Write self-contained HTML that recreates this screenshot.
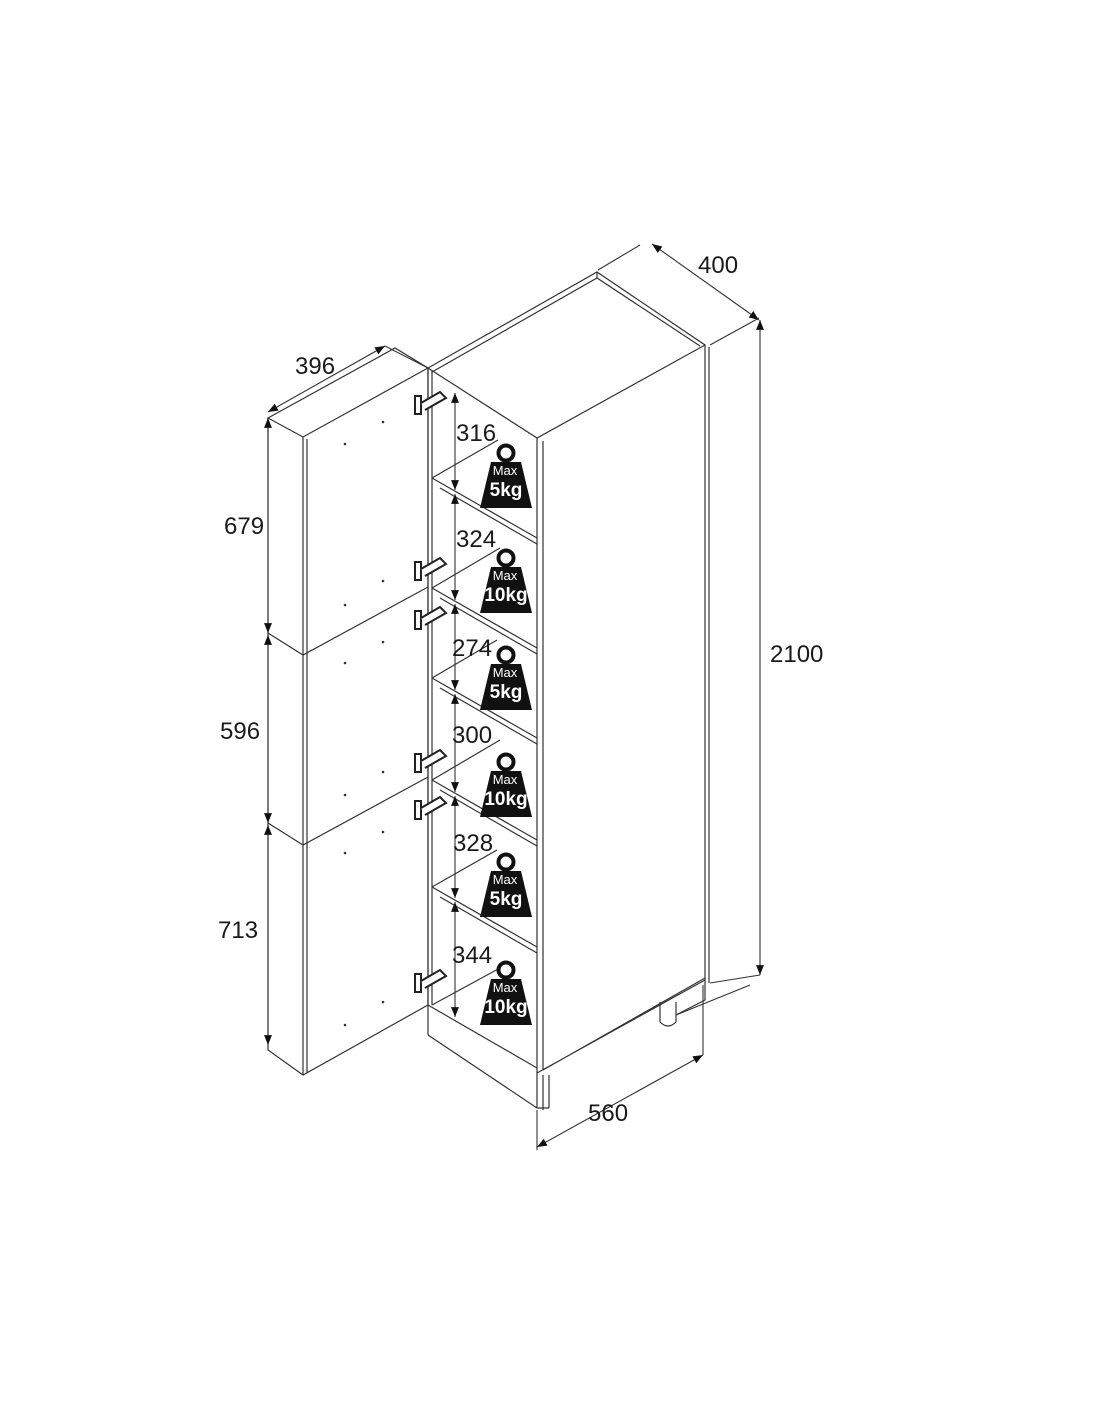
<!DOCTYPE html>
<html><head><meta charset="utf-8"><style>
html,body{margin:0;padding:0;background:#fff;}
svg{display:block}
text{font-family:"Liberation Sans",sans-serif;fill:#1a1a1a}
</style></head><body>
<svg width="1100" height="1422" viewBox="0 0 1100 1422" xmlns="http://www.w3.org/2000/svg">
<defs>
<marker id="a" viewBox="0 0 10 10" refX="10" refY="5" markerWidth="9" markerHeight="9" orient="auto-start-reverse"><path d="M0,1 L10,5 L0,9 z" fill="#111"/></marker>
<g id="w">
<circle cx="0" cy="10" r="7.5" fill="none" stroke="#111" stroke-width="4"/>
<path d="M-15,19 L15,19 L26,65 L-26,65 z" fill="#111"/>
</g>
</defs>
<g stroke="#333" stroke-width="1.2" fill="none">
<path d="M428,368 L597,272 L705,345 L537,438 Z"/>
<path d="M432,372 L597,278 L700,346"/>
<path d="M597,272 L597,278"/>
<path d="M537,438 L537,1073 M543,441 L543,1070 M705,345 L705,985 M709,347 L709,983"/>
<path d="M537,1073 L705,980 M543,1070 L705,978"/>
<path d="M428,368 L428,1035 M432,370 L432,1005"/>
<path d="M428,1005 L537,1068 M428,1035 L537,1108 M537,1073 L537,1108 M543,1075 L543,1110"/>
<path d="M549,1075 L549,1108 M537,1108 L549,1108"/>
<path d="M660,1002 L660,1022 Q668,1030 676,1022 L676,1002"/>
<path d="M705,985 L705,1000 L676,1015"/>
<path d="M432,478 L537,538 M440,488 L537,544 M432,478 L498,440"/>
<path d="M432,588 L537,648 M440,598 L537,654 M432,588 L500,548"/>
<path d="M432,678 L537,738 M440,688 L537,744 M432,678 L497,640"/>
<path d="M432,780 L537,840 M440,790 L537,846 M432,780 L500,740"/>
<path d="M432,887 L537,947 M440,897 L537,953 M432,887 L497,850"/>
<path d="M432,1005 L500,968"/>
<path d="M268,418 L303,437 L428,368 L395,348 Z" fill="#fff"/>
<path d="M303,437 L303,1075 M307,439 L307,1073 M268,418 L268,1050 L303,1075 L428,1005"/>
<path d="M268,633 L303,655 L428,587 M268,823 L303,845 L428,777"/>
<path d="M428,368 L428,1005"/>
</g>
<g fill="#333">
<circle cx="383" cy="422" r="1.3"/><circle cx="345" cy="444" r="1.3"/><circle cx="383" cy="581" r="1.3"/><circle cx="345" cy="605" r="1.3"/>
<circle cx="383" cy="642" r="1.3"/><circle cx="345" cy="663" r="1.3"/><circle cx="383" cy="772" r="1.3"/><circle cx="345" cy="795" r="1.3"/>
<circle cx="383" cy="832" r="1.3"/><circle cx="345" cy="853" r="1.3"/><circle cx="383" cy="1002" r="1.3"/><circle cx="345" cy="1025" r="1.3"/>
</g>
<g stroke="#222" stroke-width="2" fill="#fff">
<g transform="translate(0,0)"><rect x="415" y="396" width="6" height="18"/><path d="M421,403 L440,392 L446,398 L425,410"/></g>
<g transform="translate(0,166)"><rect x="415" y="396" width="6" height="18"/><path d="M421,403 L440,392 L446,398 L425,410"/></g>
<g transform="translate(0,215)"><rect x="415" y="396" width="6" height="18"/><path d="M421,403 L440,392 L446,398 L425,410"/></g>
<g transform="translate(0,358)"><rect x="415" y="396" width="6" height="18"/><path d="M421,403 L440,392 L446,398 L425,410"/></g>
<g transform="translate(0,405)"><rect x="415" y="396" width="6" height="18"/><path d="M421,403 L440,392 L446,398 L425,410"/></g>
<g transform="translate(0,578)"><rect x="415" y="396" width="6" height="18"/><path d="M421,403 L440,392 L446,398 L425,410"/></g>
</g>
<g stroke="#333" stroke-width="1.1" fill="none">
<path d="M268,418 L268,633" marker-start="url(#a)" marker-end="url(#a)"/>
<path d="M268,635 L268,823" marker-start="url(#a)" marker-end="url(#a)"/>
<path d="M268,825 L268,1045" marker-start="url(#a)" marker-end="url(#a)"/>
<path d="M268,412 L385,346" marker-start="url(#a)" marker-end="url(#a)"/>
<path d="M385,346 L428,368 M598,270 L640,245"/>
<path d="M652,244 L759,320" marker-start="url(#a)" marker-end="url(#a)"/>
<path d="M710,345 L759,318"/>
<path d="M760,320 L760,975" marker-start="url(#a)" marker-end="url(#a)"/>
<path d="M710,983 L760,975"/>
<path d="M537,1147 L703,1055" marker-start="url(#a)" marker-end="url(#a)"/>
<path d="M537,1110 L537,1150 M703,985 L703,1055 M676,1015 L750,985"/>
<path d="M455,393 L455,490" marker-start="url(#a)" marker-end="url(#a)"/>
<path d="M455,494 L455,600" marker-start="url(#a)" marker-end="url(#a)"/>
<path d="M455,604 L455,690" marker-start="url(#a)" marker-end="url(#a)"/>
<path d="M455,694 L455,792" marker-start="url(#a)" marker-end="url(#a)"/>
<path d="M455,796 L455,898" marker-start="url(#a)" marker-end="url(#a)"/>
<path d="M455,902 L455,1017" marker-start="url(#a)" marker-end="url(#a)"/>
</g>
<use href="#w" x="506" y="443"/>
<use href="#w" x="506" y="548"/>
<use href="#w" x="506" y="645"/>
<use href="#w" x="506" y="752"/>
<use href="#w" x="506" y="852"/>
<use href="#w" x="506" y="960"/>
<g font-size="13" text-anchor="middle">
<text x="505" y="475" style="fill:#fff">Max</text><text x="505" y="580" style="fill:#fff">Max</text>
<text x="505" y="677" style="fill:#fff">Max</text><text x="505" y="784" style="fill:#fff">Max</text>
<text x="505" y="884" style="fill:#fff">Max</text><text x="505" y="992" style="fill:#fff">Max</text>
</g>
<g font-size="19" font-weight="bold" text-anchor="middle">
<text x="506" y="496" style="fill:#fff">5kg</text><text x="506" y="601" style="fill:#fff">10kg</text>
<text x="506" y="698" style="fill:#fff">5kg</text><text x="506" y="805" style="fill:#fff">10kg</text>
<text x="506" y="905" style="fill:#fff">5kg</text><text x="506" y="1013" style="fill:#fff">10kg</text>
</g>
<g font-size="24">
<text x="295" y="374">396</text>
<text x="698" y="273">400</text>
<text x="770" y="662">2100</text>
<text x="224" y="534">679</text>
<text x="220" y="739">596</text>
<text x="218" y="938">713</text>
<text x="588" y="1121">560</text>
<text x="456" y="441">316</text>
<text x="456" y="547">324</text>
<text x="452" y="656">274</text>
<text x="452" y="743">300</text>
<text x="453" y="851">328</text>
<text x="452" y="963">344</text>
</g>
</svg>
</body></html>
